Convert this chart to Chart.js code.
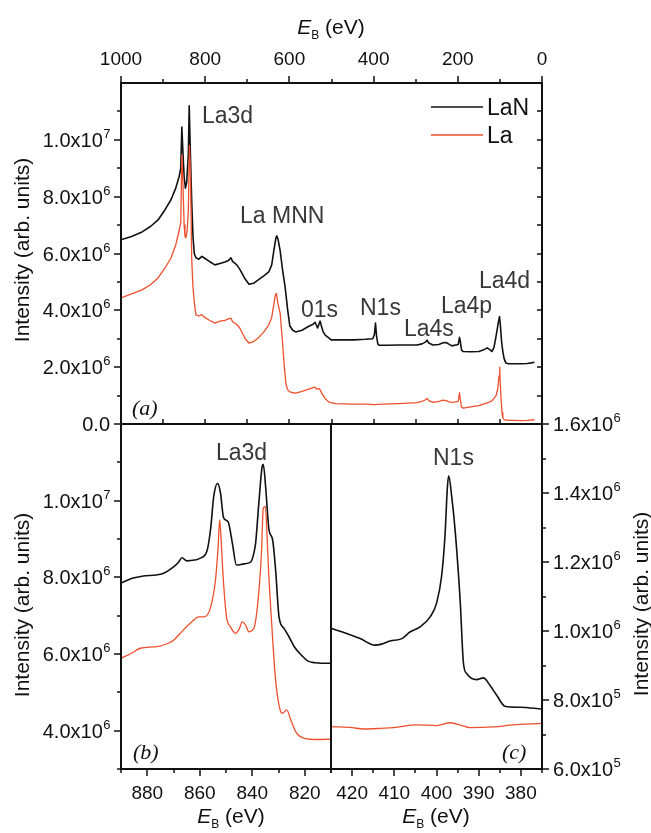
<!DOCTYPE html>
<html>
<head>
<meta charset="utf-8">
<script src="https://cdn.jsdelivr.net/npm/chart.js@4.4.0/dist/chart.umd.min.js"></script>
<style>
  html, body { margin: 0; padding: 0; background: #fff; }
  #wrap { position: relative; width: 651px; height: 833px; }
  #wrap canvas { position: absolute; left: 0; top: 0; }
</style>
</head>
<body>
<div id="wrap">
  <canvas id="survey" width="651" height="833"></canvas>
  <canvas id="core" width="651" height="833"></canvas>
  <canvas id="nitrogen" width="651" height="833"></canvas>
</div>
<script>
// intensities are in units of 10^6 counts

// (a) wide survey
const surveyLaNEnergy = [1000, 975, 950, 930, 912, 895, 881, 870, 862, 858, 855.5, 853, 850, 847, 844, 840, 838, 835, 832, 829, 826, 822, 815, 808, 803, 790, 777, 765, 753, 745, 739, 735, 725, 718, 705, 696, 685, 674, 660, 649, 642, 637, 632, 630, 627, 622, 616, 610, 604, 599, 592, 585, 570, 556, 545, 539, 535, 533, 530, 527, 524, 520, 515, 508, 501, 480, 447, 420, 402, 398, 395.5, 393, 390, 387, 370, 340, 297, 285, 277, 273, 269, 259, 245, 235, 228, 220, 214, 205, 199, 196, 194, 191, 187, 170, 150, 140, 130, 124, 119, 114, 109, 104, 101, 99, 96, 93, 90, 86, 80, 65, 50, 35, 25, 18];
const surveyLaNCounts = [6.48, 6.60, 6.76, 6.95, 7.18, 7.55, 7.9, 8.3, 8.7, 9.0, 10.45, 9.6, 8.7, 8.3, 8.5, 9.5, 11.2, 9.4, 7.8, 6.6, 6.0, 5.85, 5.8, 5.9, 5.85, 5.72, 5.6, 5.65, 5.7, 5.75, 5.85, 5.72, 5.6, 5.45, 5.1, 4.92, 4.95, 5.07, 5.22, 5.35, 5.6, 6.1, 6.55, 6.62, 6.5, 6.1, 5.4, 4.8, 4.0, 3.45, 3.3, 3.24, 3.3, 3.42, 3.5, 3.58, 3.45, 3.38, 3.5, 3.62, 3.45, 3.25, 3.13, 3.05, 2.96, 2.96, 2.96, 2.98, 3.0, 3.15, 3.55, 3.1, 2.82, 2.77, 2.77, 2.78, 2.78, 2.82, 2.88, 2.95, 2.85, 2.78, 2.8, 2.86, 2.87, 2.8, 2.75, 2.78, 2.8, 3.05, 2.9, 2.6, 2.55, 2.54, 2.55, 2.6, 2.68, 2.62, 2.55, 2.7, 3.1, 3.55, 3.78, 3.5, 2.9, 2.55, 2.3, 2.15, 2.12, 2.12, 2.12, 2.13, 2.15, 2.17];

const surveyLaEnergy = [1000, 975, 950, 930, 912, 895, 881, 870, 862, 858, 855.5, 853, 850, 848, 846, 843, 840, 837.5, 835, 832, 829, 826, 822, 815, 808, 803, 790, 777, 765, 753, 745, 739, 735, 725, 718, 705, 696, 685, 674, 660, 649, 642, 637, 634, 631, 628, 622, 617, 612, 608, 604, 599, 592, 585, 570, 556, 545, 539, 535, 530, 527, 522, 515, 506, 490, 450, 420, 397, 380, 340, 297, 285, 277, 273, 269, 259, 245, 235, 228, 220, 214, 205, 199, 196, 194, 191, 187, 170, 150, 140, 130, 124, 119, 114, 109, 105, 102, 100.5, 99, 97, 95, 93, 90, 80, 65, 50, 35, 25, 18];
const surveyLaCounts = [4.44, 4.58, 4.72, 4.9, 5.14, 5.5, 5.85, 6.3, 6.8, 7.1, 9.47, 8.5, 7.0, 6.6, 6.55, 6.8, 7.5, 9.8, 8.8, 5.8, 4.8, 4.3, 3.84, 3.8, 3.85, 3.77, 3.65, 3.55, 3.62, 3.65, 3.7, 3.73, 3.6, 3.5, 3.38, 3.0, 2.85, 2.9, 3.03, 3.25, 3.49, 3.75, 4.2, 4.5, 4.6, 4.3, 3.9, 3.0, 2.0, 1.4, 1.2, 1.13, 1.1, 1.09, 1.15, 1.22, 1.27, 1.3, 1.22, 1.25, 1.2, 1.05, 0.9, 0.77, 0.72, 0.7, 0.7, 0.68, 0.7, 0.72, 0.75, 0.8, 0.85, 0.9, 0.82, 0.76, 0.8, 0.84, 0.82, 0.78, 0.76, 0.78, 0.8, 1.1, 0.85, 0.6, 0.56, 0.6, 0.65, 0.7, 0.74, 0.78, 0.82, 0.9, 1.0, 1.25, 1.7, 2.0, 1.4, 0.8, 0.4, 0.22, 0.15, 0.13, 0.13, 0.12, 0.13, 0.14, 0.15];

// (b) La 3d region
const coreLaNEnergy = [890, 885.4, 882, 874, 870, 868, 866.8, 864.9, 862, 859.8, 857.2, 855.8, 854.7, 853.2, 852.1, 850.9, 849.2, 847.6, 846, 843.2, 840.6, 839.5, 838.7, 837.5, 836.2, 835.8, 834.9, 833.6, 832.3, 831.1, 829.8, 827.9, 826, 824, 821, 818.9, 816, 813.8, 810.3];
const coreLaNCounts = [7.85, 7.98, 8.03, 8.1, 8.27, 8.4, 8.51, 8.43, 8.45, 8.5, 8.7, 9.3, 10.1, 10.45, 10.2, 9.55, 9.45, 8.9, 8.32, 8.35, 8.4, 8.6, 8.9, 9.93, 10.9, 10.95, 10.36, 9.23, 9.0, 8.19, 6.97, 6.67, 6.45, 6.19, 5.95, 5.82, 5.77, 5.76, 5.76];

const coreLaEnergy = [890, 886, 882.7, 876.4, 872, 870, 866.2, 863, 860.4, 858.3, 856, 854, 853, 852.4, 851.8, 851.1, 849.8, 848.3, 846.4, 845, 843.8, 842.5, 841.3, 839.4, 837.9, 836.5, 835.8, 835.0, 834.5, 833.8, 832.6, 831.1, 829.4, 828.5, 826.9, 825.3, 823.4, 820.2, 815.1, 810.3];
const coreLaCounts = [5.89, 6.02, 6.15, 6.19, 6.28, 6.36, 6.63, 6.84, 6.97, 6.97, 7.19, 7.93, 8.8, 9.5, 8.9, 8.02, 6.97, 6.71, 6.54, 6.65, 6.84, 6.75, 6.58, 6.67, 7.32, 8.62, 9.8, 9.85, 9.3, 8.19, 6.8, 5.32, 4.54, 4.45, 4.54, 4.28, 3.97, 3.8, 3.77, 3.78];

// (c) N 1s region
const n1sLaNEnergy = [424.8, 421.3, 418.1, 414.6, 413, 411, 408.2, 406.3, 403.9, 401.5, 400, 398.8, 398, 397.4, 397.1, 396.4, 395.6, 394.4, 393.6, 392.8, 390.5, 388.9, 387.3, 385.7, 383.8, 380.2, 375.1];
const n1sLaNCounts = [1.007, 0.993, 0.978, 0.959, 0.962, 0.971, 0.978, 0.997, 1.012, 1.041, 1.08, 1.158, 1.274, 1.42, 1.45, 1.39, 1.294, 1.09, 0.905, 0.876, 0.859, 0.864, 0.842, 0.813, 0.782, 0.779, 0.774];

const n1sLaEnergy = [424.8, 420, 417.3, 413, 410.2, 404.7, 400, 396.8, 394, 392.1, 386.5, 381.8, 375.1];
const n1sLaCounts = [0.723, 0.72, 0.716, 0.718, 0.72, 0.728, 0.726, 0.734, 0.726, 0.72, 0.722, 0.728, 0.732];

// labelled ticks
const surveyTicksE = [1000, 800, 600, 400, 200, 0];
const surveyTicksI = [0, 2, 4, 6, 8, 10];
const coreTicksE = [880, 860, 840, 820];
const coreTicksI = [4, 6, 8, 10];
const n1sTicksE = [420, 410, 400, 390, 380];
const n1sTicksI = [0.6, 0.8, 1.0, 1.2, 1.4, 1.6];

const BLACK = '#111111';
const RED = 'rgb(238,80,46)';
const SANS = '"Liberation Sans", Arial, sans-serif';
const SERIF = '"Liberation Serif", "Times New Roman", serif';
const W = 651, H = 833;

function series(label, energy, counts, color, width, smooth) {
  return {
    label: label,
    data: energy.map(function(e, i) { return { x: e, y: counts[i] }; }),
    borderColor: color,
    borderWidth: width,
    fill: false,
    pointRadius: 0,
    cubicInterpolationMode: smooth ? 'monotone' : 'default'
  };
}

function steps(from, to, step) {
  var out = [];
  for (var v = from; v <= to + 1e-9; v += step) out.push(Math.round(v * 1000) / 1000);
  return out;
}

// tick marks along a horizontal edge (len < 0 goes up)
function xTicks(ctx, scale, values, y, len) {
  ctx.beginPath();
  values.forEach(function(v) {
    var p = Math.round(scale.getPixelForValue(v));
    ctx.moveTo(p, y);
    ctx.lineTo(p, y + len);
  });
  ctx.stroke();
}

// tick marks along a vertical edge (len < 0 goes left)
function yTicks(ctx, scale, values, x, len) {
  ctx.beginPath();
  values.forEach(function(v) {
    var p = Math.round(scale.getPixelForValue(v));
    ctx.moveTo(x, p);
    ctx.lineTo(x + len, p);
  });
  ctx.stroke();
}

// "m.nx10^e" label, value given in units of 10^6
function sciLabel(ctx, v, x, y, align) {
  var base, sup = '';
  if (v === 0) {
    base = '0.0';
  } else {
    var raw = v * 1e6;
    var e = Math.floor(Math.log10(raw) + 1e-9);
    base = (raw / Math.pow(10, e)).toFixed(1) + 'x10';
    sup = String(e);
  }
  ctx.font = '20px ' + SANS;
  var wb = ctx.measureText(base).width;
  ctx.font = '13px ' + SANS;
  var ws = ctx.measureText(sup).width;
  var left = align === 'right' ? x - wb - ws : x;
  ctx.textAlign = 'left';
  ctx.textBaseline = 'alphabetic';
  ctx.font = '20px ' + SANS;
  ctx.fillText(base, left, y + 7);
  if (sup) {
    ctx.font = '13px ' + SANS;
    ctx.fillText(sup, left + wb + 0.5, y - 2);
  }
}

// "E_B (eV)" centred on cx
function energyTitle(ctx, cx, baseline) {
  ctx.textBaseline = 'alphabetic';
  ctx.textAlign = 'left';
  ctx.font = 'italic 21px ' + SANS;
  var wE = ctx.measureText('E').width;
  ctx.font = '12px ' + SANS;
  var wB = ctx.measureText('B').width;
  ctx.font = '21px ' + SANS;
  var wRest = ctx.measureText(' (eV)').width;
  var x = cx - (wE + wB + wRest) / 2;
  ctx.font = 'italic 21px ' + SANS;
  ctx.fillText('E', x, baseline);
  ctx.font = '12px ' + SANS;
  ctx.fillText('B', x + wE, baseline + 5);
  ctx.font = '21px ' + SANS;
  ctx.fillText(' (eV)', x + wE + wB, baseline);
}

function intensityTitle(ctx, x, cy) {
  ctx.save();
  ctx.translate(x, cy);
  ctx.rotate(-Math.PI / 2);
  ctx.font = '21px ' + SANS;
  ctx.textAlign = 'center';
  ctx.textBaseline = 'alphabetic';
  ctx.fillText('Intensity (arb. units)', 0, 0);
  ctx.restore();
}

function note(ctx, text, x, baseline) {
  ctx.font = '23px ' + SANS;
  ctx.fillStyle = '#383838';
  ctx.textAlign = 'left';
  ctx.textBaseline = 'alphabetic';
  ctx.fillText(text, x, baseline);
  ctx.fillStyle = BLACK;
}

function panelTag(ctx, text, x, baseline) {
  ctx.font = 'italic 22px ' + SERIF;
  ctx.textAlign = 'left';
  ctx.textBaseline = 'alphabetic';
  ctx.fillText(text, x, baseline);
}

function frame(ctx, area) {
  ctx.lineWidth = 2;
  ctx.strokeRect(area.left, area.top, area.right - area.left, area.bottom - area.top);
}

function makePanel(id, box, xRange, yRange, datasets, decorate) {
  return new Chart(document.getElementById(id), {
    type: 'line',
    data: { datasets: datasets },
    options: {
      responsive: false,
      animation: false,
      devicePixelRatio: 1,
      layout: { padding: { left: box[0], top: box[1], right: W - box[2], bottom: H - box[3] } },
      plugins: { legend: { display: false }, tooltip: { enabled: false } },
      scales: {
        x: { type: 'linear', reverse: true, min: xRange[0], max: xRange[1], display: false },
        y: { type: 'linear', min: yRange[0], max: yRange[1], display: false }
      },
      elements: { line: { tension: 0, borderJoinStyle: 'round' } }
    },
    plugins: [{
      id: 'decor_' + id,
      afterDraw: function(chart) {
        var ctx = chart.ctx;
        ctx.save();
        ctx.strokeStyle = BLACK;
        ctx.fillStyle = BLACK;
        decorate(ctx, chart, chart.chartArea, chart.scales.x, chart.scales.y);
        ctx.restore();
      }
    }]
  });
}

// ── (a) survey ──────────────────────────────────
makePanel('survey', [121, 83, 542, 424], [0, 1000], [0, 12], [
  series('La', surveyLaEnergy, surveyLaCounts, RED, 1.3, false),
  series('LaN', surveyLaNEnergy, surveyLaNCounts, BLACK, 1.6, false)
], function(ctx, chart, a, x, y) {
  frame(ctx, a);
  ctx.lineWidth = 1.5;
  xTicks(ctx, x, surveyTicksE, a.top, -7);
  xTicks(ctx, x, steps(100, 900, 200), a.top, -4);
  xTicks(ctx, x, steps(100, 900, 100), a.bottom, -5);
  yTicks(ctx, y, surveyTicksI, a.left, -7);
  yTicks(ctx, y, steps(1, 11, 2), a.left, -4);
  yTicks(ctx, y, steps(1, 11, 1), a.right, -5);

  ctx.font = '19px ' + SANS;
  ctx.textAlign = 'center';
  ctx.textBaseline = 'alphabetic';
  surveyTicksE.forEach(function(v) { ctx.fillText(String(v), x.getPixelForValue(v), 65); });
  surveyTicksI.forEach(function(v) { sciLabel(ctx, v, 110, y.getPixelForValue(v), 'right'); });

  energyTitle(ctx, 331, 34);
  intensityTitle(ctx, 29, 250);

  note(ctx, 'La3d', 202, 123);
  note(ctx, 'La MNN', 240, 223);
  note(ctx, '01s', 301, 317);
  note(ctx, 'N1s', 360, 315);
  note(ctx, 'La4s', 404, 336);
  note(ctx, 'La4p', 441, 313);
  note(ctx, 'La4d', 479, 288);
  panelTag(ctx, '(a)', 132, 415);

  // legend
  ctx.lineWidth = 1.6;
  ctx.strokeStyle = BLACK;
  ctx.beginPath(); ctx.moveTo(431, 107); ctx.lineTo(483, 107); ctx.stroke();
  ctx.strokeStyle = RED;
  ctx.beginPath(); ctx.moveTo(431, 135); ctx.lineTo(483, 135); ctx.stroke();
  ctx.font = '23px ' + SANS;
  ctx.textAlign = 'left';
  ctx.fillText('LaN', 487, 115);
  ctx.fillText('La', 487, 143);
});

// ── (b) La 3d ──────────────────────────────────
makePanel('core', [121, 424, 331, 769], [810, 890], [3, 12], [
  series('La', coreLaEnergy, coreLaCounts, RED, 1.3, true),
  series('LaN', coreLaNEnergy, coreLaNCounts, BLACK, 1.6, true)
], function(ctx, chart, a, x, y) {
  frame(ctx, a);
  ctx.lineWidth = 1.5;
  xTicks(ctx, x, coreTicksE, a.bottom, 7);
  xTicks(ctx, x, steps(810, 890, 20), a.bottom, 4);
  yTicks(ctx, y, coreTicksI, a.left, -7);
  yTicks(ctx, y, steps(3, 11, 2), a.left, -4);

  ctx.font = '19px ' + SANS;
  ctx.textAlign = 'center';
  ctx.textBaseline = 'alphabetic';
  coreTicksE.forEach(function(v) { ctx.fillText(String(v), x.getPixelForValue(v), 799); });
  coreTicksI.forEach(function(v) { sciLabel(ctx, v, 110, y.getPixelForValue(v), 'right'); });

  energyTitle(ctx, 231, 823);
  intensityTitle(ctx, 29, 605);
  note(ctx, 'La3d', 216, 460);
  panelTag(ctx, '(b)', 133, 759);
});

// ── (c) N 1s ──────────────────────────────────
makePanel('nitrogen', [331, 424, 542, 769], [375, 425], [0.6, 1.6], [
  series('La', n1sLaEnergy, n1sLaCounts, RED, 1.3, true),
  series('LaN', n1sLaNEnergy, n1sLaNCounts, BLACK, 1.6, true)
], function(ctx, chart, a, x, y) {
  frame(ctx, a);
  ctx.lineWidth = 1.5;
  xTicks(ctx, x, n1sTicksE, a.bottom, 7);
  xTicks(ctx, x, steps(375, 425, 10), a.bottom, 4);
  yTicks(ctx, y, n1sTicksI, a.right, 7);
  yTicks(ctx, y, steps(0.7, 1.5, 0.2), a.right, 4);

  ctx.font = '19px ' + SANS;
  ctx.textAlign = 'center';
  ctx.textBaseline = 'alphabetic';
  n1sTicksE.forEach(function(v) { ctx.fillText(String(v), x.getPixelForValue(v), 799); });
  n1sTicksI.forEach(function(v) { sciLabel(ctx, v, 553, y.getPixelForValue(v), 'left'); });

  energyTitle(ctx, 436, 823);
  intensityTitle(ctx, 648, 604);
  note(ctx, 'N1s', 433, 465);
  panelTag(ctx, '(c)', 502, 759);
});
</script>
</body>
</html>
